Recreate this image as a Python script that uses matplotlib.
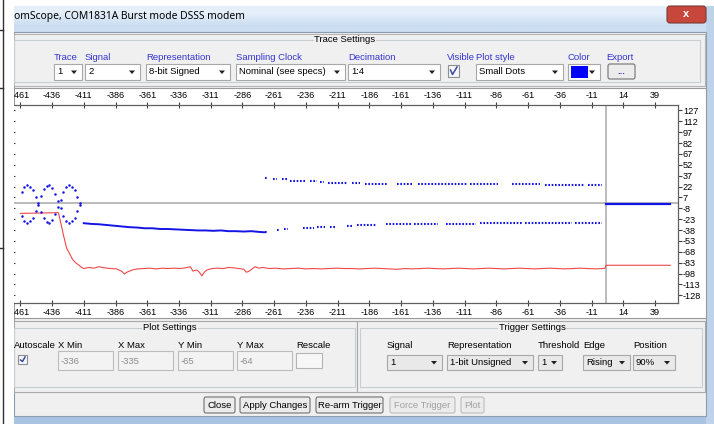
import numpy as np
import matplotlib
matplotlib.use("Agg")
import matplotlib.pyplot as plt
import matplotlib.lines as mlines
from matplotlib.patches import Rectangle, Polygon, FancyBboxPatch

plt.rcParams['font.family'] = ['Liberation Sans', 'DejaVu Sans']
plt.rcParams['axes.unicode_minus'] = False

x_ticks = [-461, -436, -411, -386, -361, -336, -311, -286, -261, -236, -211,
           -186, -161, -136, -111, -86, -61, -36, -11, 14, 39]
y_ticks = [127, 112, 97, 82, 67, 52, 37, 22, 7, -8, -23, -38, -53, -68, -83,
           -98, -113, -128]

# blue trace, sine part (two arcs seen as dots)
sine_x = [-460, -457.8, -455.6, -453.4, -451.2, -449, -446.8, -444.6, -442.4,
          -440.2, -438, -435.8, -433.6, -431.4, -429.2, -427, -424.8, -422.6,
          -420.4, -418.2, -416, -413.8]
sine_up = [14, 21, 24, 22, 17, 8, -1, 9, 18, 23, 24, 20, 12, 2, 4, 14, 21, 24,
           22, 17, 8, -1]
sine_dn = [-18, -25, -28, -26, -21, -12, -3, -13, -22, -27, -28, -24, -16, -6,
           -8, -18, -25, -28, -26, -21, -12, -3]

# blue trace, dense lower band
dense_x = [-411, -405, -399, -393, -387, -381, -375, -369, -363, -357, -351,
           -345, -339, -333, -327, -321, -315, -309, -303, -297, -291, -285,
           -279, -273, -269]
dense_y = [-28.5, -29.5, -30, -31, -32, -33, -34, -34.5, -35.5, -35.5, -36.5,
           -36.5, -37, -37.5, -38, -38.5, -38.5, -39, -38.5, -39.5, -39.5, -40,
           -39.5, -40.5, -41]

# blue trace, sparse dot runs
up_start = [-268, -262, -255, -248.5, -233, -225, -218.5, -200, -189.5, -164.5,
            -147.5, -107, -74, -47.5, -13.5]
up_end = [-265.5, -259, -251, -236.5, -227.5, -222, -204, -193.5, -171, -152.5,
          -108, -84.5, -51.5, -16, -3]
up_val = [34, 33, 32, 30, 29, 28.5, 27.5, 26.5, 25.5, 25, 25, 25, 25, 24.5, 24.5]

lo_start = [-268, -259, -253, -238, -227.5, -217, -204, -196, -173, -150.5,
            -126, -123, -98.5, -63.5, -24]
lo_end = [-265.5, -256.5, -250, -230, -221, -212, -199, -180, -153, -132,
          -123.5, -102, -66, -26.5, -3]
lo_val = [-40, -38, -36.5, -35.5, -34, -33.5, -32.5, -31.5, -30, -29.5, -29,
          -29, -28.5, -28.5, -28.5]

post_x = [0.5, 51]
post_y = [-2.5, -2.5]

# red trace
red_x = [-461, -445, -431, -429.5, -427, -424.5, -422, -420, -417.5, -415, -413,
         -411, -407, -403, -399, -395, -390, -385, -381, -379, -377, -372, -368,
         -364, -359, -354, -349, -345, -340, -335, -331, -327, -325, -322, -320,
         -318, -316, -314, -310, -306, -301, -297, -293, -289, -285, -283, -281,
         -278, -276, -273, -270, -265, -260, -254, -248, -242, -236, -230, -224,
         -218, -212, -206, -200, -194, -188, -182, -176, -170, -164, -158, -152,
         -146, -140, -134, -128, -122, -116, -110, -104, -98, -92, -86, -80, -74,
         -68, -62, -56, -50, -44, -38, -32, -26, -20, -14, -8, -2, -0.5, 0.5, 51]
red_y = [-15, -14.5, -14, -25, -45, -63, -71, -78, -83, -86, -89, -91, -89.5,
         -90.5, -88.5, -90, -91, -91.5, -95, -98.5, -96, -92.5, -91.5, -91, -90.5,
         -91.5, -90.5, -91, -90.5, -91, -90, -88.5, -94.5, -93, -96, -101, -96,
         -93, -91, -90.5, -91, -89.5, -90, -91, -92, -96, -95, -91, -88.5, -90.5,
         -89.5, -91, -90.5, -91.5, -91, -90.5, -91.5, -91, -91.5, -91, -90.5, -91,
         -91, -91.5, -91, -90.5, -91, -91.5, -92, -91, -91.5, -91, -90.5, -91,
         -91.5, -91, -90.5, -91, -91.5, -91, -90.5, -91, -91.5, -91, -90.5, -91,
         -91.5, -91, -90.5, -91, -91.5, -91, -90.5, -91, -91.5, -91, -90.5,
         -86.5, -86.5]

W, H = 714, 424
fig = plt.figure(figsize=(W / 100, H / 100), dpi=100)
bg = fig.add_axes([0, 0, 1, 1])
bg.set_xlim(0, W)
bg.set_ylim(H, 0)
bg.axis('off')

FS = 6.8
LBLUE = '#3434d0'


def box(x0, y0, x1, y1, fc='none', ec='#a0a0a0', lw=0.8, z=1):
    bg.add_patch(Rectangle((x0, y0), x1 - x0, y1 - y0, fc=fc, ec=ec, lw=lw, zorder=z))


def label(x, y, s, color='black', size=FS, ha='left', **kw):
    bg.text(x, y, s, color=color, fontsize=size, ha=ha, va='center', zorder=5, **kw)


def arrow(xc, yc):
    bg.add_patch(Polygon([[xc - 3, yc - 1.5], [xc + 3, yc - 1.5], [xc, yc + 2]],
                         closed=True, fc='#202020', ec='none', zorder=6))


def dropdown(x0, x1, y0, y1, s, fc='white'):
    box(x0, y0, x1, y1, fc=fc, ec='#a8a8a8', z=4)
    if s:
        label(x0 + 3, (y0 + y1) / 2, s)
    arrow(x1 - 8, (y0 + y1) / 2)


def button(x0, x1, y0, y1, s, enabled=True, color='black', weight='normal'):
    bg.add_patch(FancyBboxPatch((x0, y0), x1 - x0, y1 - y0,
                                boxstyle='round,pad=0,rounding_size=2',
                                fc='#ececec', ec='#707070' if enabled else '#bdbdbd',
                                lw=0.8, zorder=4))
    if s:
        label((x0 + x1) / 2, (y0 + y1) / 2, s, ha='center', weight=weight,
              color=color if enabled else '#a0a0a0')


def checkbox(x0, y0, x1, y1):
    box(x0, y0, x1, y1, fc='#f4f6fb', ec='#8e8f8f', z=4)
    bg.plot([x0 + 2.5, x0 + 4.5, x1 - 2], [y0 + 5, y1 - 2.5, y0 + 2],
            color='#3c4a9c', lw=1.1, zorder=6)


def group(x0, y0, x1, y1, title, tx):
    box(x0, y0, x1, y1, ec='#c8cdd2', lw=0.8, z=2)
    label(tx, y0, title, ha='center',
          bbox=dict(fc='#f0f0f0', ec='none', pad=0.6))


# window frame and title bar
box(14, 6, 714, H, fc='#c5d8ee', ec='none', z=0)
bg.imshow([[[0.90, 0.94, 0.98]], [[0.80, 0.87, 0.95]]], extent=(14, 714, 32, 6),
          aspect='auto', interpolation='bilinear', zorder=0.5)
box(706, 6, 714, H, fc='#bed3ea', ec='none', z=0.6)
box(14, 416, 706, H, fc='#a9c4e2', ec='none', z=0.6)
label(14, 17, 'omScope, COM1831A Burst mode DSSS modem', size=7.4,
      family=['Noto Sans', 'DejaVu Sans'])
bg.add_patch(FancyBboxPatch((667, 6), 39, 17, boxstyle='round,pad=0,rounding_size=3',
                            fc='#c8473c', ec='#7a3a35', lw=0.8, zorder=3))
label(686.5, 14, 'x', color='white', size=8, ha='center', weight='bold')

# client area
box(14, 32, 706, 416, fc='#f0f0f0', ec='#8a9cb0', z=1)

# trace settings
box(14, 34, 705, 86, fc='#f0f0f0', ec='#b4b4b4', z=1)
group(14, 40, 700, 82, 'Trace Settings', 345)
for s, xx in [('Trace', 54), ('Signal', 85), ('Representation', 146),
              ('Sampling Clock', 236), ('Decimation', 348), ('Visible', 447),
              ('Plot style', 476), ('Color', 568), ('Export', 606)]:
    label(xx, 58, s, color=LBLUE)
for x0, x1, s in [(54, 82, '1'), (85, 140, '2'), (146, 230, '8-bit Signed'),
                  (236, 345, 'Nominal (see specs)'), (348, 440, '1:4'),
                  (476, 563, 'Small Dots')]:
    dropdown(x0, x1, 64, 80, s)
checkbox(448, 65, 459, 77)
dropdown(568, 600, 64, 80, '')
box(571, 66, 588, 78, fc='#0000ff', ec='none', z=6)
button(608, 635, 64, 79, '...', color=LBLUE, weight='bold')

# plot panel
box(14, 88, 706, 318, fc='white', ec='#9a9a9a', z=1)

# plot settings
box(14, 321, 357, 392, fc='#f0f0f0', ec='#a8a8a8', z=1)
group(14, 328, 355, 387, 'Plot Settings', 170)
for s, xx in [('Autoscale', 14), ('X Min', 58), ('X Max', 118), ('Y Min', 178),
              ('Y Max', 237), ('Rescale', 296)]:
    label(xx, 346, s)
checkbox(18, 355, 27, 364)
for x0, x1, s in [(58, 113, '-336'), (118, 173, '-335'), (178, 233, '-65'),
                  (237, 292, '-64')]:
    box(x0, 351, x1, 370, fc='#f3f3f3', ec='#bcbcbc', z=4)
    label(x0 + 3, 361, s, color='#8c8c8c')
box(296, 353, 322, 368, fc='#f7f7f7', ec='#b4b4b4', z=4)

# trigger settings
box(357, 321, 705, 392, fc='#f0f0f0', ec='#a8a8a8', z=1)
group(360, 328, 702, 387, 'Trigger Settings', 532)
for s, xx in [('Signal', 387), ('Representation', 447), ('Threshold', 538),
              ('Edge', 583), ('Position', 633)]:
    label(xx, 346, s)
for x0, x1, s in [(387, 442, '1'), (447, 533, '1-bit Unsigned'), (538, 562, '1'),
                  (583, 630, 'Rising'), (633, 675, '90%')]:
    dropdown(x0, x1, 355, 370, s, fc='#e9e9e9')

# bottom buttons
for x0, x1, s, en in [(204, 235, 'Close', True), (240, 310, 'Apply Changes', True),
                      (316, 383, 'Re-arm Trigger', True),
                      (390, 455, 'Force Trigger', False), (461, 484, 'Plot', False)]:
    button(x0, x1, 397, 413, s, en)

# ---- the scope plot ----
px0, px1, py0, py1 = 10, 678, 105, 303
ax = fig.add_axes([px0 / W, (H - py1) / H, (px1 - px0) / W, (py1 - py0) / H])
ax.set_facecolor('white')
ax.set_xlim(-461 - (20.3 - px0) / 1.2694, 57.1)
ax.set_ylim(-138.5, 134.4)

ax.axhline(0, color='#a8a8a8', lw=1.1, zorder=1)
ax.axvline(0, color='#a8a8a8', lw=1.1, zorder=1)

BLUE = '#1414e6'
RED = '#f04848'
ax.plot(red_x, red_y, color=RED, lw=0.8, zorder=3)
ax.plot(sine_x, sine_up, 'o', ms=1.8, color=BLUE, mec='none', zorder=4)
ax.plot(sine_x, sine_dn, 'o', ms=1.8, color=BLUE, mec='none', zorder=4)
ax.plot(dense_x, dense_y, color=BLUE, lw=1.4, zorder=4)
ax.hlines(up_val, up_start, up_end, colors=BLUE, lw=1.5,
          linestyles=[(0, (0.8, 0.8))], zorder=4)
ax.hlines(lo_val, lo_start, lo_end, colors=BLUE, lw=1.5,
          linestyles=[(0, (0.8, 0.8))], zorder=4)
ax.plot(post_x, post_y, color=BLUE, lw=1.6, zorder=4)

ax.set_xticks(x_ticks)
ax.set_xticklabels([str(v) for v in x_ticks])
ax.set_yticks(y_ticks)
ax.set_yticklabels([str(v) for v in y_ticks])
ax.tick_params(axis='x', top=True, labeltop=True, bottom=True, labelbottom=True,
               direction='inout', length=4, width=0.8, color='#404040',
               labelsize=6.6, pad=1.5)
ax.tick_params(axis='y', left=True, right=True, labelleft=False, labelright=True,
               direction='out', length=3, width=0.8, color='#404040',
               labelsize=6.6, pad=0.5)
# the left ticks only show as short stubs inside the window edge
for t in ax.yaxis.get_major_ticks():
    t.tick1line.set_marker(mlines.TICKRIGHT)
    t.tick1line.set_markersize(3.9)
for side in ['top', 'bottom', 'right']:
    ax.spines[side].set_color('#606060')
    ax.spines[side].set_linewidth(0.9)
ax.spines['left'].set_visible(False)

# left strip outside of the window, drawn over everything
fig.add_artist(Rectangle((0, 0), 14 / W, 1, transform=fig.transFigure,
                         fc='white', ec='none', zorder=10))
fig.add_artist(mlines.Line2D([3 / W, 3 / W], [0, 1], transform=fig.transFigure,
                             color='#303030', lw=1.0, zorder=11))
for yy in [30, 88, 248]:
    fig.add_artist(mlines.Line2D([0, 3 / W], [1 - yy / H, 1 - yy / H],
                                 transform=fig.transFigure, color='#303030',
                                 lw=1.0, zorder=11))

fig.savefig('out.png', dpi=100)
